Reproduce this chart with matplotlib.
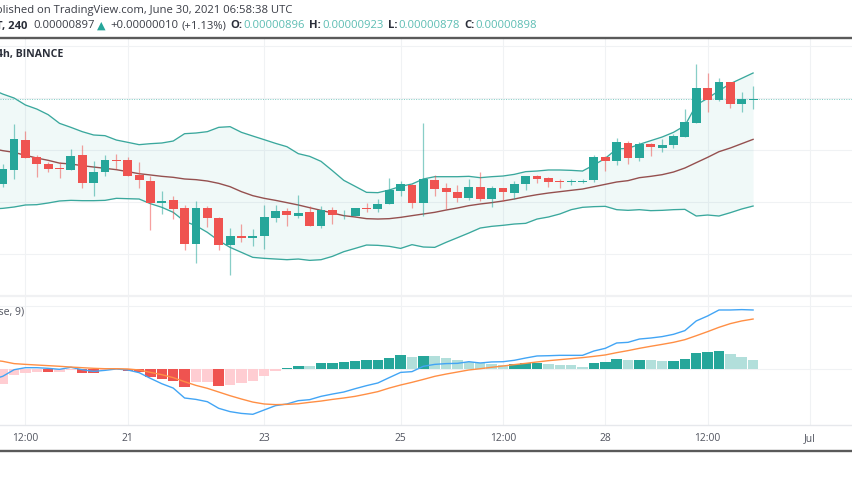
import numpy as np
from matplotlib import pyplot as plt
from matplotlib.patches import Rectangle

plt.rcParams['font.family'] = ['Open Sans', 'DejaVu Sans']

# prices in satoshi (1e-8), one row = 10 candles
opens = [733.8, 761.4, 818.5, 786.4, 772.3, 764.6, 760.8, 789.0, 735.1, 756.9,
         780.6, 779.4, 750.5, 740.3, 697.3, 702.4, 688.3, 619.1, 688.3, 667.8,
         616.5, 633.8, 630.0, 633.8, 669.1, 682.6, 672.3, 679.4, 653.1, 683.8,
         671.7, 672.3, 688.3, 685.1, 696.0, 721.0, 731.9, 697.3, 742.2, 725.5,
         718.4, 706.3, 727.4, 705.0, 725.5, 716.5, 734.5, 748.6, 744.7, 740.3,
         738.3, 738.3, 740.9, 786.4, 778.7, 812.7, 783.2, 810.8, 803.1, 808.8,
         824.9, 851.8, 917.8, 894.7, 929.4, 887.0, 896.0]
highs = [772.3, 849.2, 835.8, 789.6, 775.5, 775.5, 801.2, 808.8, 778.7, 790.2,
         791.5, 785.1, 775.5, 749.9, 721.0, 710.1, 693.5, 701.2, 690.9, 669.8,
         649.2, 656.3, 648.0, 694.1, 693.5, 687.1, 712.7, 690.9, 690.9, 689.6,
         683.2, 688.3, 697.3, 705.0, 746.0, 740.3, 733.8, 851.1, 751.8, 735.8,
         731.9, 743.5, 756.9, 729.4, 725.5, 739.0, 749.9, 751.2, 746.7, 743.5,
         743.5, 743.5, 789.6, 788.3, 821.7, 815.9, 814.0, 812.0, 820.4, 830.0,
         878.0, 964.0, 947.3, 937.0, 929.4, 910.0, 923.0]
lows = [728.7, 743.5, 784.5, 746.7, 757.6, 746.0, 760.8, 725.5, 711.4, 749.9,
        762.7, 749.9, 726.1, 644.7, 676.8, 666.5, 607.6, 582.6, 650.5, 607.6,
        559.5, 622.9, 615.3, 608.9, 661.4, 653.1, 669.1, 653.7, 649.9, 656.3,
        666.5, 671.7, 679.4, 680.6, 694.7, 711.4, 687.7, 673.0, 711.4, 685.8,
        698.6, 702.4, 701.8, 690.3, 701.8, 705.0, 722.9, 735.8, 727.4, 726.8,
        731.9, 735.8, 737.1, 758.2, 771.0, 771.7, 778.7, 788.3, 794.7, 803.1,
        823.6, 851.8, 872.9, 894.1, 880.6, 871.7, 878.0]
closes = [762.7, 820.4, 784.5, 772.3, 762.7, 762.7, 787.0, 736.4, 756.3, 780.0,
          778.7, 749.9, 740.9, 697.3, 701.2, 686.4, 619.1, 688.3, 668.5, 616.5,
          633.8, 630.0, 633.8, 669.7, 682.6, 673.6, 678.1, 653.7, 684.5, 674.2,
          673.0, 688.3, 686.4, 696.0, 722.3, 733.2, 697.3, 743.5, 724.9, 717.8,
          707.6, 728.7, 705.0, 725.5, 717.8, 734.5, 749.2, 744.1, 738.3, 738.3,
          739.6, 740.3, 786.4, 778.1, 814.0, 783.8, 810.8, 804.4, 808.8, 825.5,
          853.1, 919.1, 896.0, 929.4, 887.0, 897.3, 898.0]

# bollinger bands, first value is the candle just left of the crop
bb_upper = [916.5,
            906.9, 899.2, 885.8, 878.0, 867.2, 850.5, 842.8, 834.5, 828.1, 826.8,
            818.4, 814.0, 809.5, 811.4, 812.7, 816.5, 830.6, 831.9, 834.5, 842.8,
            844.1, 833.2, 826.1, 819.1, 812.0, 805.6, 792.2, 787.0, 777.4, 759.5,
            740.9, 729.4, 717.8, 717.2, 722.3, 729.4, 733.8, 743.5, 747.9, 747.9,
            747.9, 748.6, 746.0, 747.9, 749.2, 752.4, 757.6, 758.8, 760.8, 760.8,
            760.1, 758.8, 770.4, 783.2, 801.2, 802.4, 810.1, 817.2, 824.2, 833.2,
            846.0, 885.8, 898.6, 913.3, 926.8, 937.0, 947.3]
bb_basis = [802.4,
            798.0, 794.7, 789.0, 783.8, 779.4, 774.0, 772.3, 769.1, 766.5, 764.0,
            761.4, 757.6, 753.7, 751.2, 748.6, 746.7, 743.5, 742.2, 739.6, 735.1,
            728.7, 719.1, 711.4, 706.3, 702.4, 698.0, 693.5, 688.3, 683.2, 678.1,
            673.0, 670.4, 667.2, 666.5, 667.2, 669.7, 673.0, 676.2, 679.4, 683.8,
            687.7, 692.2, 695.4, 698.0, 701.2, 705.0, 709.5, 713.3, 716.5, 719.1,
            721.7, 724.2, 728.7, 733.2, 737.7, 740.3, 746.0, 748.6, 751.8, 756.9,
            764.6, 774.9, 785.1, 796.0, 803.1, 811.4, 819.7]
bb_lower = [685.8,
            687.0, 689.6, 693.5, 694.1, 697.3, 701.2, 702.4, 701.8, 701.8, 702.4,
            706.3, 705.6, 705.0, 696.0, 689.0, 679.4, 662.0, 653.7, 640.9, 624.9,
            612.0, 602.4, 592.8, 590.9, 589.6, 588.3, 589.6, 587.0, 588.3, 594.7,
            603.7, 610.0, 616.5, 615.9, 614.0, 610.0, 617.2, 612.7, 612.0, 621.7,
            630.6, 639.6, 649.2, 652.4, 654.4, 656.9, 658.2, 666.5, 670.4, 676.2,
            684.5, 689.0, 690.3, 690.9, 684.5, 683.2, 684.5, 682.6, 683.2, 684.5,
            685.1, 672.3, 674.2, 672.3, 678.7, 685.8, 691.5]

macd_line = [-8.1,
             -5.5, -0.3, 1.3, 1.3, 0.8, 0.0, 1.6, -0.3, -1.6, -0.8,
             0.3, -0.5, -2.6, -7.1, -11.3, -14.7, -22.5, -23.6, -25.4, -30.6,
             -33.2, -34.6, -35.3, -31.9, -28.5, -27.2, -24.6, -23.8, -21.2, -19.4,
             -17.8, -15.2, -12.8, -10.7, -6.5, -2.4, -1.8, 2.4, 3.9, 4.5,
             4.7, 6.0, 5.0, 5.8, 6.0, 7.1, 8.9, 10.5, 10.7, 11.0,
             11.0, 11.0, 14.4, 16.5, 20.7, 21.2, 23.8, 24.6, 25.7, 27.5,
             30.4, 38.0, 41.9, 46.6, 46.6, 46.9, 46.6]
signal_line = [7.3,
               6.3, 4.5, 3.9, 3.4, 2.9, 2.4, 1.8, 1.3, 0.8, 0.5,
               0.5, 0.3, -0.5, -2.4, -4.2, -6.5, -9.7, -12.6, -14.9, -17.8,
               -20.7, -23.3, -25.7, -27.2, -27.7, -27.5, -27.0, -25.9, -24.9, -23.6,
               -22.5, -21.2, -19.4, -17.5, -14.7, -12.3, -10.2, -7.9, -5.5, -3.7,
               -2.1, -0.5, 0.5, 1.6, 2.6, 3.7, 4.7, 5.8, 6.8, 7.6,
               8.4, 9.2, 10.2, 11.3, 13.1, 14.7, 16.5, 18.1, 19.6, 21.2,
               23.3, 26.4, 29.6, 33.0, 35.9, 38.0, 39.5]
histogram = [-11.3, -4.7, -2.6, -1.8, -2.4, -2.1, -0.3, -2.6, -2.9, -0.3,
             -0.3, -1.6, -2.4, -6.0, -7.3, -8.9, -13.6, -10.2, -9.9, -12.8,
             -12.0, -10.7, -9.4, -5.2, -1.3, 1.3, 2.7, 2.6, 4.7, 5.2,
             5.5, 6.5, 7.3, 7.4, 9.2, 11.3, 9.4, 10.7, 10.5, 8.9,
             7.1, 6.0, 5.0, 4.5, 3.4, 3.9, 5.0, 5.2, 4.5, 3.7,
             3.1, 2.1, 4.7, 5.5, 7.9, 7.1, 7.3, 7.1, 6.5, 6.6,
             8.1, 12.6, 13.4, 14.4, 11.8, 9.4, 7.3]

tick_pos = [2, 11, 23, 35, 44, 53, 62, 71]
tick_labels = ['12:00', '21', '23', '25', '12:00', '28', '12:00', 'Jul']
price_grid = [600, 700, 800, 900, 1000]
macd_grid = [0, 50]
last_close = 898

GREEN = '#26a69a'
RED = '#ef5350'
GRID = '#f0f2f4'
W, H = 852, 485


def fx(px):
    return px / W


def fy(py):
    return 1 - py / H


def put(px, py, s, **kw):
    kw.setdefault('va', 'center')
    kw.setdefault('color', '#3a3d46')
    kw.setdefault('fontsize', 8.1)
    fig.text(fx(px), fy(py), s, **kw)


fig = plt.figure(figsize=(W / 100, H / 100), dpi=100, facecolor='white')
ax = fig.add_axes([0, fy(296), 1, (296 - 40) / H])
ax2 = fig.add_axes([0, fy(426), 1, (426 - 298) / H])

x = np.arange(len(closes))
xl = np.arange(len(closes) + 1) - 1
xlim = (-0.235, 74.7)

# main pane
ax.fill_between(xl, bb_lower, bb_upper, color=GREEN, alpha=0.065, lw=0, zorder=1)
ax.plot(xl, bb_upper, color='#3aa89d', lw=0.95, zorder=2)
ax.plot(xl, bb_lower, color='#3aa89d', lw=0.95, zorder=2)
ax.plot(xl, bb_basis, color='#95504f', lw=1.0, zorder=2)
ax.axhline(last_close, color='#7fcbc3', lw=0.7, ls=(0, (1, 1.5)), zorder=2)

for i in x:
    c = GREEN if closes[i] >= opens[i] else RED
    ax.plot([i, i], [lows[i], highs[i]], color=c, lw=0.9, alpha=0.55, zorder=3,
            solid_capstyle='butt')
    low, high = sorted([opens[i], closes[i]])
    ax.add_patch(Rectangle((i - 0.39, low), 0.78, max(high - low, 1.5), color=c,
                           lw=0, zorder=4))

ax.set_xlim(xlim)
ax.set_ylim(520.4, 1012.7)
ax.set_yticks(price_grid)

# macd pane
for i in x:
    prev = histogram[i - 1] if i > 0 else -20
    if histogram[i] >= 0:
        c = GREEN if histogram[i] > prev else '#b2dfdb'
    else:
        c = RED if histogram[i] < prev else '#ffcdd2'
    ax2.bar(i, histogram[i], width=0.92, color=c, lw=0, zorder=2)
ax2.plot(xl, macd_line, color='#42a5f5', lw=1.0, zorder=3)
ax2.plot(xl, signal_line, color='#ff8f45', lw=1.0, zorder=3)
ax2.set_xlim(xlim)
ax2.set_ylim(-43.7, 56.8)
ax2.set_yticks(macd_grid)

for a in (ax, ax2):
    a.set_xticks(tick_pos)
    a.grid(True, color=GRID, lw=0.8, zorder=0)
    a.set_axisbelow(True)
    a.tick_params(length=0, labelleft=False, labelbottom=False)
    for s in a.spines.values():
        s.set_visible(False)
ax2.spines['bottom'].set_visible(True)
ax2.spines['bottom'].set_color('#e6e8ec')
ax2.spines['bottom'].set_linewidth(1.0)

# tick labels
for pos, lab in zip(tick_pos, tick_labels):
    put(2.67 + pos * 11.37, 439, lab, ha='center', fontsize=7.4, color='#50535e')

# frame lines
fig.add_artist(plt.Line2D([0, 1], [fy(38.5)] * 2, color='#5a5a5a', lw=1.7))
fig.add_artist(plt.Line2D([0, 1], [fy(452)] * 2, color='#5a5a5a', lw=1.7))
fig.add_artist(plt.Line2D([0, 1], [fy(296.8)] * 2, color='#f0f1f3', lw=1.6))

# header
put(292, 11, 'Published on TradingView.com, June 30, 2021 06:58:38 UTC', ha='right')
put(27, 26, 'T, 240', ha='right', fontweight='bold', color='#2a2e39')
put(33, 26, '0.00000897')
put(97, 26, '▲', color=GREEN, fontsize=8, family='DejaVu Sans')
put(110, 26, '+0.00000010')
put(181, 26, '(+1.13%)')
teal = '#5dbdb3'
for lab_x, lab, val_x, val in [(230, 'O:', 243, '0.00000896'), (309, 'H:', 322, '0.00000923'),
                               (388, 'L:', 398, '0.00000878'), (464, 'C:', 475, '0.00000898')]:
    put(lab_x, 26, lab, fontweight='bold', color='#2a2e39')
    put(val_x, 26, val, color=teal)

put(63, 54, '4h, BINANCE', ha='right', fontweight='bold', fontsize=7.6, color='#2a2e39')
put(24, 312, 'Close, 9)', ha='right', fontsize=7.6, color='#50535e')

fig.savefig('out.png', dpi=100)
